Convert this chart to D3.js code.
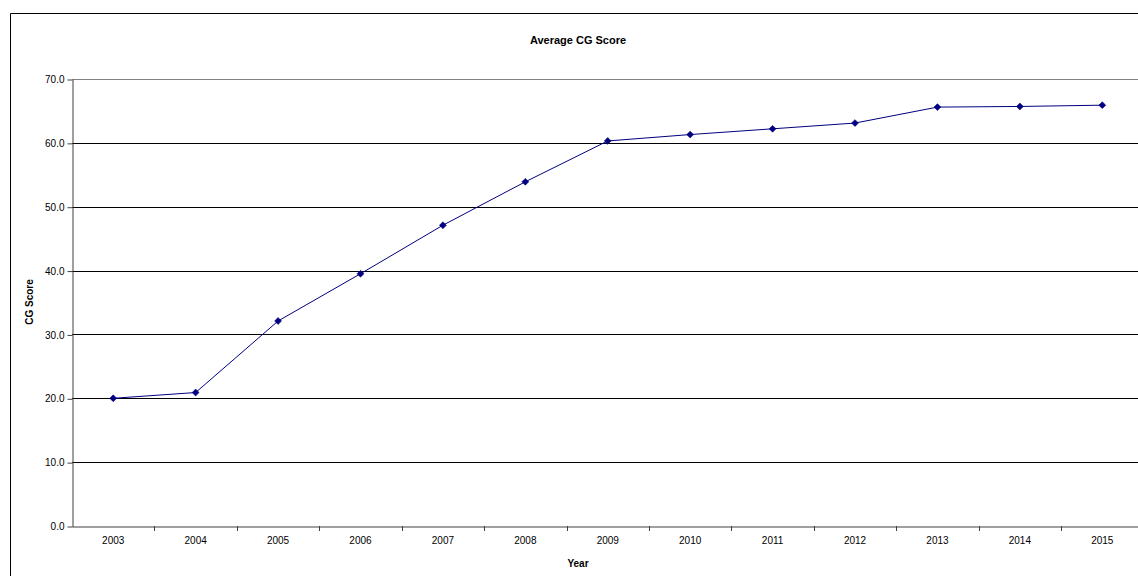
<!DOCTYPE html>
<html>
<head>
<meta charset="utf-8">
<script src="https://cdn.jsdelivr.net/npm/d3@7"></script>
<style>
  html, body { margin: 0; padding: 0; background: #fff; overflow: hidden; }
  svg { display: block; font-family: "Liberation Sans", Arial, sans-serif; }
</style>
</head>
<body>
<svg id="chart" width="1138" height="576"></svg>
<script>
// Average corporate-governance score per year
const years = ["2003", "2004", "2005", "2006", "2007", "2008", "2009",
               "2010", "2011", "2012", "2013", "2014", "2015"];
const scores = [20.0, 20.9, 32.1, 39.5, 47.1, 53.9, 60.3,
                61.3, 62.2, 63.1, 65.6, 65.7, 65.9];
const yTicks = [0, 10, 20, 30, 40, 50, 60, 70];

const svg = d3.select("#chart");
const plot = { left: 72, right: 1143.5, top: 79, bottom: 526 };

// Outer chart frame: only its top and left edges fall inside the page
svg.append("path")
  .attr("d", "M10.5,576 V13.5 H1138")
  .attr("fill", "none").attr("stroke", "#000").attr("stroke-width", 1);

const x = d3.scaleBand().domain(years).range([plot.left, plot.right]).padding(0);
const y = d3.scaleLinear().domain([0, 70]).range([plot.bottom, plot.top]);

// Horizontal gridlines
svg.append("g")
  .selectAll("line")
  .data(yTicks.filter(t => t > 0))
  .join("line")
  .attr("x1", plot.left).attr("x2", plot.right)
  .attr("y1", d => Math.round(y(d)) + 0.5).attr("y2", d => Math.round(y(d)) + 0.5)
  .attr("stroke", d => d === 70 ? "#808080" : "#000")
  .attr("stroke-width", 1);

// Y axis
const yAxis = svg.append("g")
  .attr("transform", `translate(${plot.left + 0.5},0.5)`)
  .call(d3.axisLeft(y).tickValues(yTicks).tickFormat(d3.format(".1f")).tickSize(5).tickSizeOuter(0));
yAxis.select(".domain").attr("stroke", "#404040");
yAxis.selectAll(".tick line").attr("stroke", "#404040");
yAxis.selectAll(".tick text")
  .attr("font-size", 10).attr("fill", "#000").attr("x", -8)
  .attr("font-family", "'Liberation Sans', Arial, sans-serif");

// X axis with ticks between categories
const xAxis = svg.append("g")
  .attr("transform", `translate(0,${plot.bottom + 0.5})`)
  .call(d3.axisBottom(x).tickSize(0).tickSizeOuter(0));
xAxis.select(".domain").attr("stroke", "#404040");
xAxis.selectAll(".tick text")
  .attr("font-size", 10).attr("fill", "#000").attr("dy", "1.45em")
  .attr("font-family", "'Liberation Sans', Arial, sans-serif");
svg.append("g")
  .selectAll("line")
  .data(years.slice(1))
  .join("line")
  .attr("x1", d => Math.round(x(d)) + 0.5).attr("x2", d => Math.round(x(d)) + 0.5)
  .attr("y1", plot.bottom).attr("y2", plot.bottom + 5)
  .attr("stroke", "#404040");

// Series line
const line = d3.line()
  .x((d, i) => x(years[i]) + x.bandwidth() / 2)
  .y(d => y(d));
svg.append("path")
  .datum(scores)
  .attr("d", line)
  .attr("fill", "none")
  .attr("stroke", "#000080")
  .attr("stroke-width", 1);

// Diamond markers
svg.append("g")
  .selectAll("path")
  .data(scores)
  .join("path")
  .attr("transform", (d, i) => `translate(${x(years[i]) + x.bandwidth() / 2},${y(d)})`)
  .attr("d", d3.symbol(d3.symbolDiamond2, 30))
  .attr("fill", "#000080")
  .attr("stroke", "#000080")
  .attr("stroke-width", 0.6);

// Titles
svg.append("text")
  .attr("x", 578).attr("y", 44)
  .attr("text-anchor", "middle")
  .attr("font-size", 11).attr("font-weight", "bold")
  .text("Average CG Score");

svg.append("text")
  .attr("x", 578).attr("y", 567)
  .attr("text-anchor", "middle")
  .attr("font-size", 10).attr("font-weight", "bold")
  .text("Year");

svg.append("text")
  .attr("transform", "translate(33,302) rotate(-90)")
  .attr("text-anchor", "middle")
  .attr("font-size", 10).attr("font-weight", "bold")
  .text("CG Score");
</script>
</body>
</html>
